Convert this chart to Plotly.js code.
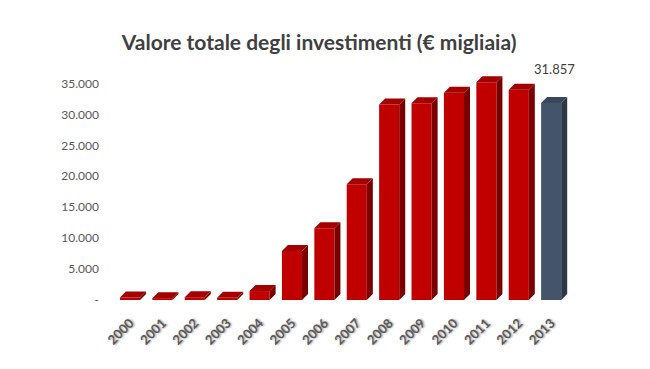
<!DOCTYPE html>
<html>
<head>
<meta charset="utf-8">
<script src="https://cdn.plot.ly/plotly-3.0.1.min.js"></script>
<style>html,body{margin:0;padding:0;background:#fff;}#chart{width:650px;height:369px;}</style>
</head>
<body>
<div id="chart"></div>
<script>
// ---- data ----
const years = ["2000","2001","2002","2003","2004","2005","2006","2007","2008","2009","2010","2011","2012","2013"];
const values = [400, 300, 450, 350, 1450, 7900, 11600, 18700, 31600, 31800, 33500, 35200, 34000, 31857];
const yTickVals = [0, 5000, 10000, 15000, 20000, 25000, 30000, 35000];
const yTickText = ["-", "5.000", "10.000", "15.000", "20.000", "25.000", "30.000", "35.000"];
const highlightLabel = "31.857";

// ---- style ----
const W = 0.62;      // front face width (category units)
const DX = 0.185;    // depth in x (category units)
const DY = 970;      // depth in y (value units)
const red = {front:"#C00000", side:"#7A0000", top:"#A30000"};
const slate = {front:"#44546A", side:"#2C3848", top:"#39475A"};
const last = years.length - 1;
const FONT = "Lato, 'Open Sans', sans-serif";

const xs = years.map((_, i) => i);
const frontColors = xs.map(i => i === last ? slate.front : red.front);

function polys(kind, pick) {
  const px = [], py = [];
  xs.forEach(i => {
    if (!pick(i)) return;
    const v = values[i];
    const l = i - W / 2, r = i + W / 2;
    if (kind === "top") {
      px.push(l, r, r + DX, l + DX, l, null);
      py.push(v, v, v + DY, v + DY, v, null);
    } else {
      px.push(r, r + DX, r + DX, r, r, null);
      py.push(0, DY, v + DY, v, 0, null);
    }
  });
  return {x: px, y: py};
}

const traces = [];
[["side", red.side, i => i !== last], ["top", red.top, i => i !== last],
 ["side", slate.side, i => i === last], ["top", slate.top, i => i === last]].forEach(([k, c, p]) => {
  const d = polys(k, p);
  traces.push({type: "scatter", x: d.x, y: d.y, mode: "lines", fill: "toself",
    fillcolor: c, line: {width: 0, color: c}, hoverinfo: "skip", showlegend: false});
});
traces.push({type: "bar", x: xs, y: values, width: W,
  marker: {color: frontColors, line: {width: 0}}, hoverinfo: "x+y", showlegend: false});

const layout = {
  width: 650, height: 369,
  margin: {l: 100, r: 70, t: 60, b: 68.5},
  paper_bgcolor: "#fff", plot_bgcolor: "#fff",
  title: {text: "Valore totale degli investimenti (€ migliaia)",
    font: {family: FONT, size: 21, color: "#404040", weight: "bold"},
    x: 0.491, xanchor: "center", y: 0.885, yanchor: "middle"},
  xaxis: {range: [-0.926, 13.89], tickvals: xs, ticktext: years, tickangle: -45,
    showgrid: false, zeroline: false, showline: false, ticks: "", ticklabelstandoff: 12,
    tickfont: {family: FONT, size: 13, color: "#595959", weight: "bold", shadow: "1px 1px 2px #999"}},
  yaxis: {range: [0, 38790], tickvals: yTickVals, ticktext: yTickText,
    showgrid: false, zeroline: false, showline: false, ticks: "",
    tickfont: {family: FONT, size: 12, color: "#595959"}},
  annotations: [{x: last + DX / 2, y: values[last], text: highlightLabel, showarrow: false,
    yshift: 34, font: {family: FONT, size: 13, color: "#404040"}}]
};

Plotly.newPlot("chart", traces, layout, {displayModeBar: false, staticPlot: true});
</script>
</body>
</html>
